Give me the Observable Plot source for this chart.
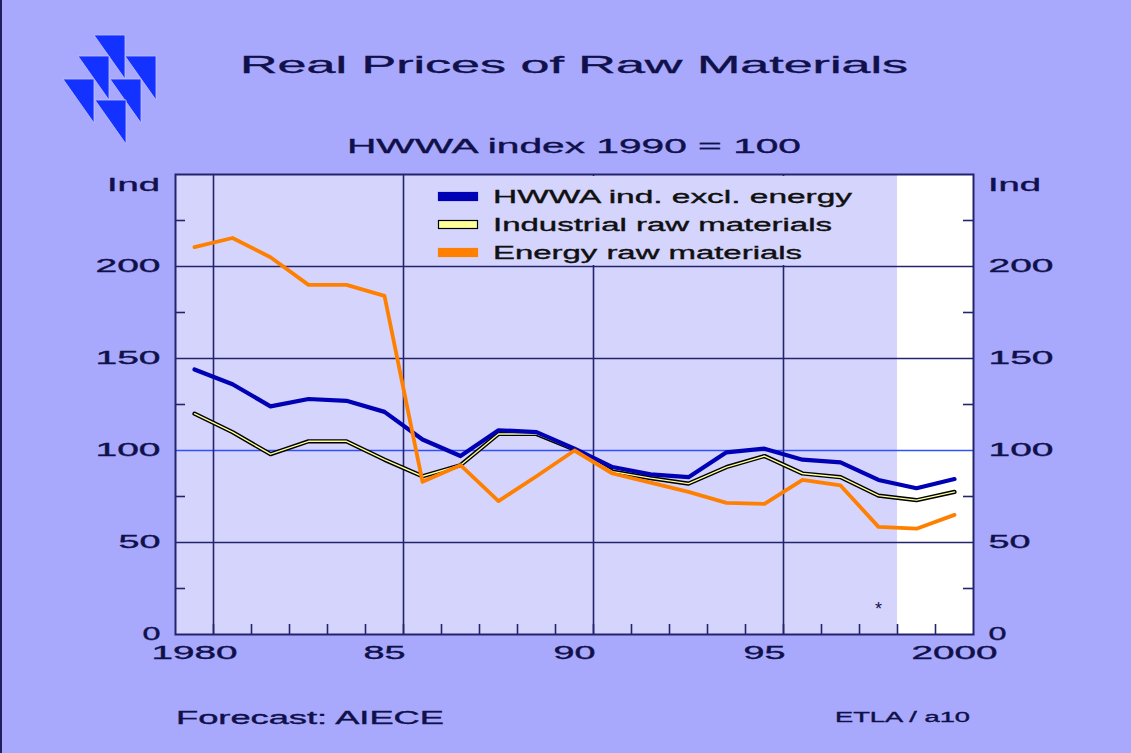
<!DOCTYPE html>
<html><head><meta charset="utf-8">
<script src="https://cdn.jsdelivr.net/npm/d3@7"></script>
<script src="https://cdn.jsdelivr.net/npm/@observablehq/plot@0.6"></script>
<style>
html,body{margin:0;padding:0;background:#a8a8fc;}
#wrap{position:relative;width:1131px;height:753px;overflow:hidden;background:#a8a8fc;}
#chart{position:absolute;left:0;top:0}
#overlay{position:absolute;left:0;top:0;pointer-events:none}
text{font-family:"Liberation Sans",Arial,sans-serif}
</style></head><body><div id="wrap"><div id="chart"></div><svg id="overlay" width="1131" height="753"></svg></div>
<script>
// ---- data ----
const years = [1980,1981,1982,1983,1984,1985,1986,1987,1988,1989,1990,1991,1992,1993,1994,1995,1996,1997,1998,1999,2000];
const hwwaExclEnergy = [144,136,124,128,127,121,106,97,111,110,101,91,87,85.5,99,101,95,93.5,84,79.5,84.5];
const industrialRaw  = [120,110,98,105,105,95,86,92,109,109,100.5,88.5,85,82,91,97,87.5,85.5,75.5,73,77.5];
const energyRaw      = [210.5,215.5,205,190,190,184,83,92,72.5,86,100,87.5,82.5,77.5,71.5,71,84,81,58.5,57.5,65];
const forecastYears = [1999, 2000];
const gridYears = [1980, 1985, 1990, 1995];
const labelYears = [1980, 1985, 1990, 1995, 2000];
const yLabels = [0, 50, 100, 150, 200];
const yGrid = [50, 150, 200];
const yRef = [100];
const yMinor = [25, 75, 125, 175, 225];
const starNote = [{year: 1998, value: 14, text: "*"}];
const seriesNames = ["HWWA ind. excl. energy", "Industrial raw materials", "Energy raw materials"];

const rows = years.map((y, i) => ({year: y, hwwa: hwwaExclEnergy[i], ind: industrialRaw[i], energy: energyRaw[i]}));

const NAVY = "#24246e", TXT = "#10104a";
const plot = Plot.plot({
  width: 1131, height: 700,
  marginLeft: 175, marginRight: 158, marginTop: 174, marginBottom: 66,
  style: {background: "transparent", fontFamily: "Liberation Sans, Arial, sans-serif", fontSize: "18px", color: TXT},
  x: {domain: [1979.5, 2000.5]},
  y: {domain: [0, 250]},
  marks: [
    Plot.frame({fill: "#d4d4fc"}),
    Plot.rect(forecastYears, {x1: d => d - 0.5, x2: d => d + 0.5, fill: "white"}),
    Plot.ruleY(yGrid, {stroke: NAVY, strokeWidth: 1.6}),
    Plot.ruleY(yRef, {stroke: "#3050ff", strokeWidth: 1.3}),
    Plot.ruleX(gridYears, {x: d => d + 0.5, stroke: NAVY, strokeWidth: 1.6}),
    Plot.ruleX(years.slice(0, -1), {x: d => d + 0.5, stroke: NAVY, strokeWidth: 1.6, insetTop: 450}),
    Plot.ruleY(yMinor, {stroke: NAVY, strokeWidth: 1.6, insetRight: 788}),
    Plot.ruleY(yMinor, {stroke: NAVY, strokeWidth: 1.6, insetLeft: 788}),
    Plot.line(rows, {x: "year", y: "ind", stroke: "#000000", strokeWidth: 4.2}),
    Plot.line(rows, {x: "year", y: "ind", stroke: "#ffff99", strokeWidth: 1.4}),
    Plot.line(rows, {x: "year", y: "hwwa", stroke: "#0000b4", strokeWidth: 4.2}),
    Plot.line(rows, {x: "year", y: "energy", stroke: "#ff8000", strokeWidth: 3.8}),
    Plot.text(starNote, {x: "year", y: "value", text: "text", fill: TXT, fontSize: 18}),
    Plot.axisX({ticks: labelYears, tickSize: 0, tickPadding: 12, label: null,
      tickFormat: d => (d === 1980 || d === 2000) ? String(d) : String(d).slice(2)}),
    Plot.axisY({anchor: "left", ticks: yLabels, tickSize: 0, tickPadding: 15, label: null}),
    Plot.axisY({anchor: "right", ticks: yLabels, tickSize: 0, tickPadding: 15, label: null}),
    Plot.frame({stroke: NAVY, strokeWidth: 2})
  ]
});
document.getElementById("chart").appendChild(plot);

// stretch tick labels to the wide lettering of the original
const lenMap = {1: 18, 2: 42, 3: 65, 4: 86};
plot.querySelectorAll('g[aria-label$="tick label"] text').forEach(t => {
  const n = t.textContent.length;
  t.setAttribute("textLength", lenMap[n]);
  t.setAttribute("lengthAdjust", "spacingAndGlyphs");
  t.setAttribute("stroke", TXT);
  t.setAttribute("stroke-width", 0.35);
});

// ---- overlay: logo, titles, legend, footer ----
const ov = d3.select("#overlay");
ov.append("rect").attr("x", 0).attr("y", 0).attr("width", 2).attr("height", 753).attr("fill", "#202060");
const tri = [[94,35],[78,56],[125,56],[63,79],[110,79],[95,100]];
tri.forEach(([x, y]) => ov.append("polygon")
  .attr("points", `${x},${y} ${x+31},${y} ${x+31},${y+44}`)
  .attr("fill", "#1432ff").attr("stroke", "#c0c0ff").attr("stroke-width", 0.8));

function txt(s, x, y, size, len, anchor, fill) {
  const c = fill || TXT;
  return ov.append("text").attr("x", x).attr("y", y).attr("font-size", size)
    .attr("text-anchor", anchor || "start").attr("fill", c)
    .attr("stroke", c).attr("stroke-width", 0.35)
    .attr("textLength", len).attr("lengthAdjust", "spacingAndGlyphs").text(s);
}
txt("Real Prices of Raw Materials", 574, 73, 24, 668, "middle");
txt("HWWA index 1990 = 100", 574, 153, 20, 454, "middle");
txt("Ind", 160, 191, 18, 53, "end");
txt("Ind", 988, 191, 18, 53, "start");

// legend box (masks gridlines behind legend)
ov.append("rect").attr("x", 420).attr("y", 176).attr("width", 460).attr("height", 89).attr("fill", "#d4d4fc");
const swatch = [
  {fill: "#0000b4", stroke: "#0000b4"},
  {fill: "#ffff99", stroke: "#000000"},
  {fill: "#ff8000", stroke: "#ff8000"}
];
const legLen = [359, 339, 309];
seriesNames.forEach((s, i) => {
  const yy = 192 + i * 28;
  ov.append("rect").attr("x", 438.5).attr("y", yy + 0.5).attr("width", 39).attr("height", 8)
    .attr("fill", swatch[i].fill).attr("stroke", swatch[i].stroke).attr("stroke-width", 1.2);
  txt(s, 493, yy + 11, 18, legLen[i], "start", "#101010");
});

txt("Forecast:  AIECE", 176, 724, 17.5, 268, "start");
txt("ETLA / a10", 835, 722, 14, 135, "start");
</script></body></html>
